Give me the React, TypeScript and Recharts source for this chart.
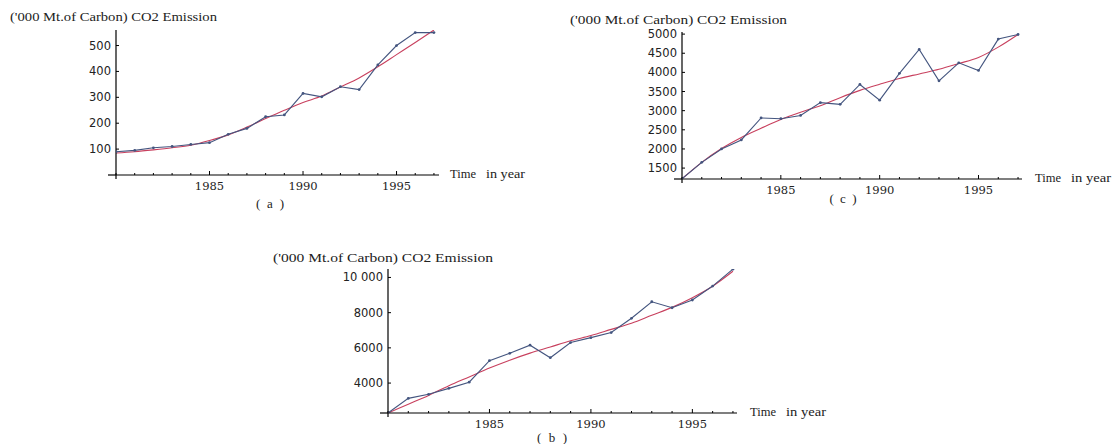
import { LineChart, Line, XAxis, YAxis } from 'recharts'

// Years on the horizontal axis (same for all three panels)
const years = [1980, 1981, 1982, 1983, 1984, 1985, 1986, 1987, 1988, 1989, 1990, 1991, 1992, 1993, 1994, 1995, 1996, 1997]

// (a) observed CO2 emission and fitted curve
const emissionA = [90, 95, 105, 110, 118, 125, 157, 180, 225, 232, 315, 302, 341, 330, 425, 500, 550, 550]
const fitA = [85, 90, 97, 105, 115, 133, 155, 185, 218, 250, 280, 305, 340, 375, 418, 465, 512, 560]

// (b)
const emissionB = [2300, 3130, 3360, 3700, 4050, 5270, 5690, 6150, 5440, 6300, 6580, 6870, 7680, 8620, 8280, 8720, 9510, 10470]
const fitB = [2300, 2800, 3300, 3850, 4350, 4850, 5300, 5700, 6050, 6400, 6700, 7050, 7400, 7850, 8300, 8850, 9500, 10350]

// (c)
const emissionC = [1220, 1650, 2000, 2235, 2810, 2790, 2875, 3210, 3165, 3685, 3275, 3975, 4600, 3780, 4250, 4050, 4870, 4990]
const fitC = [1220, 1650, 2010, 2300, 2540, 2770, 2960, 3130, 3340, 3530, 3690, 3840, 3960, 4080, 4230, 4390, 4660, 4990]

const majorYears = [1985, 1990, 1995]
const yTicksA = [100, 200, 300, 400, 500]
const yTicksB = [4000, 6000, 8000, 10000]
const yTicksC = [1500, 2000, 2500, 3000, 3500, 4000, 4500, 5000]

const titleText = "('000 Mt.of Carbon) CO2 Emission"

const W = 1116
const H = 444
const AXIS_W = 40
const AXIS_H = 30
const BLUE = '#44557f'
const RED = '#c8405e'
const SERIF = "'Liberation Serif', 'Times New Roman', serif"

type Plot = { left: number; top: number; right: number; bottom: number }

const fmtY = (v: number) => (v >= 10000 ? String(v).replace(/(\d)(\d{3})$/, '$1 $2') : String(v))

function Panel({
  plot,
  xDomain,
  yDomain,
  yTicks,
  values,
  fit,
}: {
  plot: Plot
  xDomain: [number, number]
  yDomain: [number, number]
  yTicks: number[]
  values: number[]
  fit: number[]
}) {
  const data = years.map((year, i) => ({ year, value: values[i], fit: fit[i] }))

  const xTick = (p: any) => {
    const v = p.payload.value
    const major = majorYears.includes(v)
    return (
      <g>
        <line x1={p.x} x2={p.x} y1={plot.bottom} y2={plot.bottom - (major ? 4 : 2)} stroke="#000" strokeWidth={1} />
        {major && (
          <text
            x={p.x}
            y={plot.bottom + 11}
            textAnchor="middle"
            dominantBaseline="central"
            fontFamily="DejaVu Serif"
            fontSize={11.5}
            fill="#222"
          >
            {v}
          </text>
        )}
      </g>
    )
  }

  const yTick = (p: any) => {
    const v = p.payload.value
    return (
      <g>
        <line x1={plot.left} x2={plot.left + 3} y1={p.y} y2={p.y} stroke="#000" strokeWidth={1} />
        <text
          x={plot.left - 5}
          y={p.y}
          textAnchor="end"
          dominantBaseline="central"
          fontFamily="DejaVu Sans"
          fontSize={11.5}
          fill="#222"
        >
          {fmtY(v)}
        </text>
      </g>
    )
  }

  return (
    <div style={{ position: 'absolute', left: 0, top: 0 }}>
      <LineChart
        width={W}
        height={H}
        data={data}
        margin={{
          top: plot.top,
          left: plot.left - AXIS_W,
          right: W - plot.right,
          bottom: H - plot.bottom - AXIS_H,
        }}
      >
        <XAxis
          type="number"
          dataKey="year"
          domain={xDomain}
          allowDataOverflow
          ticks={years}
          interval={0}
          height={AXIS_H}
          tickLine={false}
          axisLine={{ stroke: '#000', strokeWidth: 1.2 }}
          tick={xTick}
        />
        <YAxis
          type="number"
          domain={yDomain}
          allowDataOverflow
          ticks={yTicks}
          interval={0}
          width={AXIS_W}
          tickLine={false}
          axisLine={{ stroke: '#000', strokeWidth: 1.2 }}
          tick={yTick}
        />
        <Line dataKey="fit" type="monotone" stroke={RED} strokeWidth={1.1} dot={false} isAnimationActive={false} />
        <Line
          dataKey="value"
          type="linear"
          stroke={BLUE}
          strokeWidth={1.1}
          dot={{ r: 1.4, fill: BLUE, stroke: 'none' }}
          isAnimationActive={false}
        />
      </LineChart>
      {/* Mathematica-style axis stubs past the origin */}
      <svg width={W} height={H} style={{ position: 'absolute', left: 0, top: 0 }}>
        <line x1={plot.left - 8} x2={plot.left} y1={plot.bottom} y2={plot.bottom} stroke="#000" strokeWidth={1.2} />
        <line x1={plot.left} x2={plot.left} y1={plot.bottom} y2={plot.bottom + 4} stroke="#000" strokeWidth={1.2} />
      </svg>
    </div>
  )
}

export default function App() {
  const t = { fontFamily: SERIF, fontSize: 12, fill: '#222' }
  const cap = { fontFamily: SERIF, fontSize: 13, fill: '#222' }
  return (
    <div style={{ position: 'absolute', left: 0, top: 0, width: W, height: H, background: '#fff', overflow: 'hidden' }}>
      <Panel
        plot={{ left: 116, top: 30, right: 439, bottom: 175 }}
        xDomain={[1980, 1997.27]}
        yDomain={[0, 560]}
        yTicks={yTicksA}
        values={emissionA}
        fit={fitA}
      />
      <Panel
        plot={{ left: 682, top: 32, right: 1022, bottom: 179 }}
        xDomain={[1980, 1997.2]}
        yDomain={[1215, 5055]}
        yTicks={yTicksC}
        values={emissionC}
        fit={fitC}
      />
      <Panel
        plot={{ left: 388, top: 269, right: 737, bottom: 413 }}
        xDomain={[1980, 1997.2]}
        yDomain={[2300, 10480]}
        yTicks={yTicksB}
        values={emissionB}
        fit={fitB}
      />
      <svg width={W} height={H} style={{ position: 'absolute', left: 0, top: 0 }}>
        <g dominantBaseline="central">
          <text x={10} y={17} style={t} textLength={207} lengthAdjust="spacingAndGlyphs">{titleText}</text>
          <text x={570} y={20} style={t} textLength={217} lengthAdjust="spacingAndGlyphs">{titleText}</text>
          <text x={273} y={258} style={t} textLength={220} lengthAdjust="spacingAndGlyphs">{titleText}</text>

          <text x={450} y={174} style={t} textLength={26} lengthAdjust="spacingAndGlyphs">Time</text>
          <text x={486} y={174} style={t} textLength={39} lengthAdjust="spacingAndGlyphs">in year</text>
          <text x={1035} y={178} style={t} textLength={26} lengthAdjust="spacingAndGlyphs">Time</text>
          <text x={1071} y={178} style={t} textLength={40} lengthAdjust="spacingAndGlyphs">in year</text>
          <text x={750} y={412} style={t} textLength={26} lengthAdjust="spacingAndGlyphs">Time</text>
          <text x={786} y={412} style={t} textLength={40} lengthAdjust="spacingAndGlyphs">in year</text>

          <text x={270} y={203} style={cap} textAnchor="middle" textLength={28} lengthAdjust="spacing">(a)</text>
          <text x={843} y={198} style={cap} textAnchor="middle" textLength={27} lengthAdjust="spacing">(c)</text>
          <text x={552} y={437} style={cap} textAnchor="middle" textLength={30} lengthAdjust="spacing">(b)</text>
        </g>
      </svg>
    </div>
  )
}
